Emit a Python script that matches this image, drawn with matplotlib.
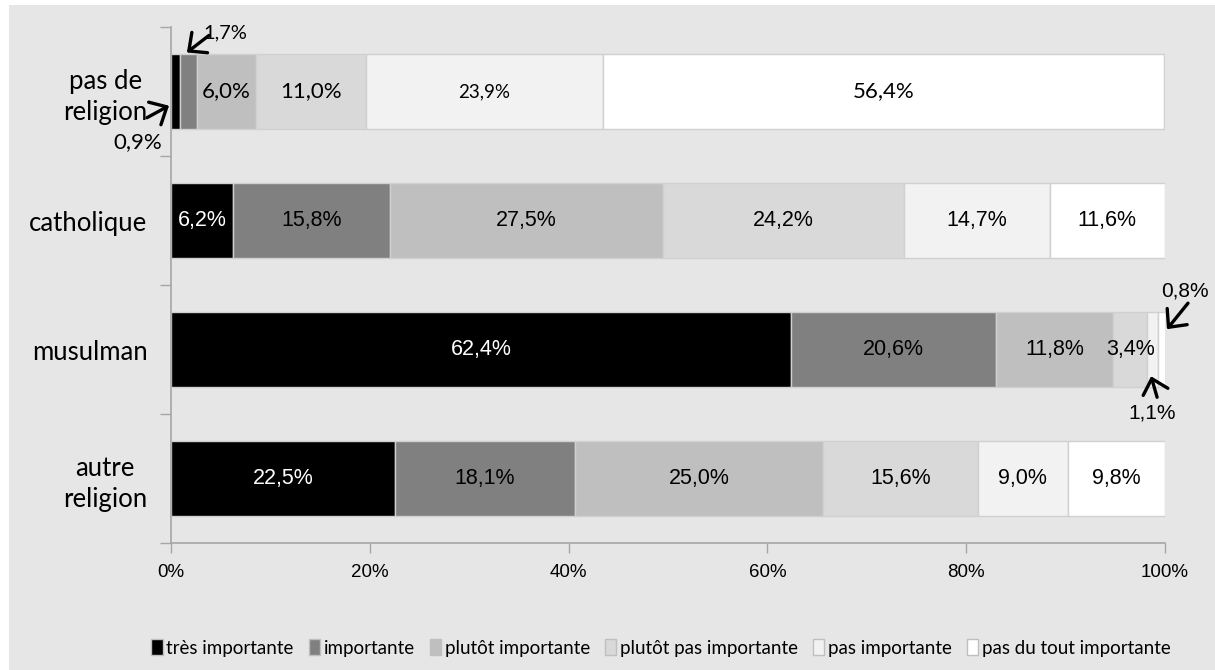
import matplotlib
matplotlib.use("Agg")
import matplotlib.pyplot as plt
from matplotlib.patches import Rectangle
import numpy as np

categories = ["pas de\nreligion", "catholique", "musulman", "autre\nreligion"]
series_names = ["très importante", "importante", "plutôt importante",
                "plutôt pas importante", "pas importante", "pas du tout importante"]
tres_importante = [0.9, 6.2, 62.4, 22.5]
importante = [1.7, 15.8, 20.6, 18.1]
plutot_importante = [6.0, 27.5, 11.8, 25.0]
plutot_pas_importante = [11.0, 24.2, 3.4, 15.6]
pas_importante = [23.9, 14.7, 1.1, 9.0]
pas_du_tout_importante = [56.4, 11.6, 0.8, 9.8]
series = [tres_importante, importante, plutot_importante,
          plutot_pas_importante, pas_importante, pas_du_tout_importante]
colors = ["#000000", "#808080", "#bfbfbf", "#d9d9d9", "#f2f2f2", "#ffffff"]
xticks = [0, 20, 40, 60, 80, 100]
xticklabels = ["0%", "20%", "40%", "60%", "80%", "100%"]

W, H = 1215, 670
fig = plt.figure(figsize=(W / 100, H / 100), dpi=100, facecolor="white")
fig.patches.append(Rectangle((9 / W, 0), 1 - 9 / W, 1 - 5 / H, transform=fig.transFigure,
                             facecolor="#e6e6e6", edgecolor="none", zorder=-5))

ax = fig.add_axes([171 / W, 1 - 543 / H, (1165 - 171) / W, (543 - 27) / H])
ax.set_facecolor("none")
ax.set_zorder(2)

ARIAL = ["Liberation Sans", "DejaVu Sans"]
CALIBRI = ["Lato", "DejaVu Sans"]

ypos = np.arange(len(categories))
left = np.zeros(len(categories))
for i, (vals, col) in enumerate(zip(series, colors)):
    vals = np.array(vals)
    ax.barh(ypos, vals, left=left, height=0.575, color=col, edgecolor="#d0d0d0",
            linewidth=1, label=series_names[i], zorder=2)
    for j, v in enumerate(vals):
        if v >= 3:
            txt = f"{v:.1f}".replace(".", ",") + "%"
            tc = "white" if col == "#000000" else "black"
            if j == 0:
                fam, fs = CALIBRI, (13.5 if i == 4 else 16)
            else:
                fam, fs = ARIAL, 15.5
            ax.text(left[j] + v / 2, ypos[j], txt, ha="center", va="center",
                    color=tc, family=fam, fontsize=fs, zorder=3)
    left = left + vals

ax.set_xlim(0, 100)
ax.set_ylim(3.5, -0.5)
ax.set_xticks(xticks)
ax.set_xticklabels(xticklabels, family=ARIAL, fontsize=13.5)
ax.set_yticks(ypos)
ax.set_yticklabels(categories, family=CALIBRI, fontsize=18.5, linespacing=1.3)
for t in ax.get_yticklabels():
    t.set_multialignment("center")
ax.tick_params(axis="y", length=0, pad=17)
ax.set_yticks([-0.5, 0.5, 1.5, 2.5, 3.5], minor=True)
ax.tick_params(axis="y", which="minor", length=8, color="#a6a6a6", width=1)
ax.tick_params(axis="x", length=7, color="#a6a6a6", width=1, pad=8)
for s in ["top", "right"]:
    ax.spines[s].set_visible(False)
for s in ["left", "bottom"]:
    ax.spines[s].set_color("#a6a6a6")
    ax.spines[s].set_linewidth(1.2)

arrow = dict(arrowstyle="->,head_length=0.45,head_width=0.42", lw=2.4, color="black",
             mutation_scale=22, shrinkA=0, shrinkB=0)


def callout(tip, tail_off, text, text_off, fam, fs, ha="center"):
    ax.annotate("", xy=tip, xytext=tail_off, textcoords="offset pixels",
                arrowprops=arrow, annotation_clip=False, zorder=4)
    ax.annotate(text, xy=tip, xytext=text_off, textcoords="offset pixels",
                ha=ha, va="center", family=fam, fontsize=fs, annotation_clip=False, zorder=4)


bh = 0.575 / 2
# pas de religion: 1,7% (pointing to 'importante' segment top)
callout((tres_importante[0] + importante[0] / 2 - 0.15, -bh - 0.015), (22, 17),
        "1,7%", (16, 20), CALIBRI, 14.5, ha="left")
# pas de religion: 0,9% (pointing to 'très importante' segment, left side)
callout((-0.2, 0.11), (-22, -12), "0,9%", (-31, -36), CALIBRI, 16)
# musulman: 0,8% (pointing to last segment, right edge)
callout((100.2, 2 - bh + 0.13), (21, 26), "0,8%", (18, 38), ARIAL, 15)
# musulman: 1,1% (pointing to 'pas importante' segment, bottom)
x11 = 100 - pas_du_tout_importante[2] - pas_importante[2] / 2
callout((x11 - 0.05, 2 + bh - 0.08), (6, -21), "1,1%", (1, -37), ARIAL, 15)

handles, labels = ax.get_legend_handles_labels()
leg = fig.legend(handles, labels, loc="center", bbox_to_anchor=(661 / W, 1 - 648 / H),
                 ncol=6, frameon=False, handlelength=0.6, handleheight=0.9,
                 handletextpad=0.2, columnspacing=0.8,
                 prop=dict(family=CALIBRI, size=13.5))
for h in leg.legend_handles:
    h.set_edgecolor("#bfbfbf")

fig.savefig("out.png", dpi=100, facecolor="white")
